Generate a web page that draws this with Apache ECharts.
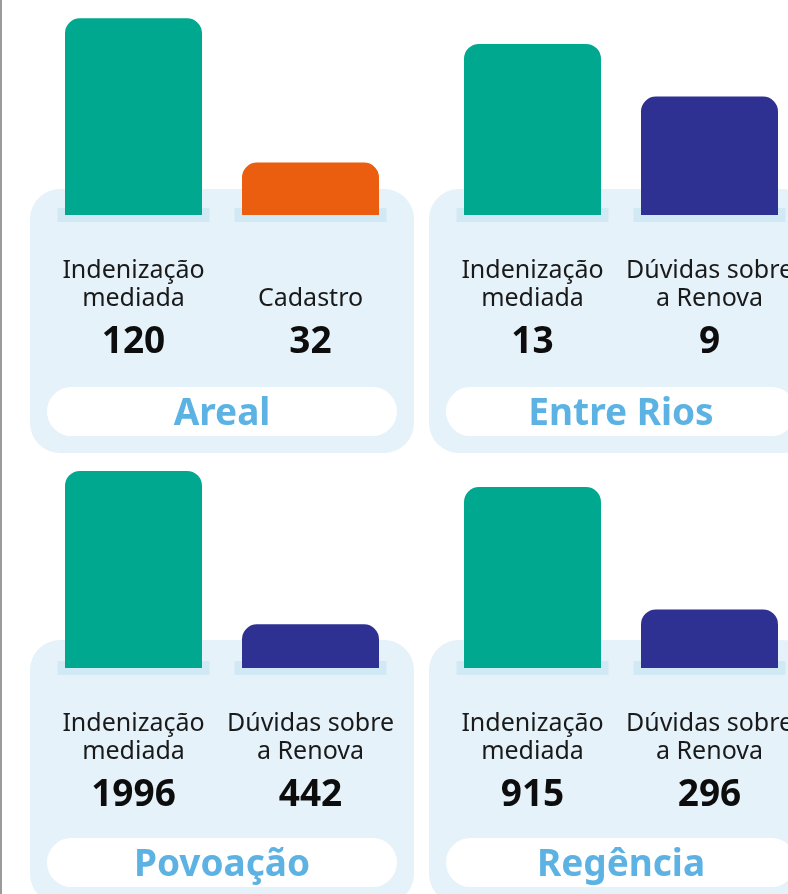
<!DOCTYPE html>
<html>
<head>
<meta charset="utf-8">
<script src="https://cdn.jsdelivr.net/npm/echarts@6/dist/echarts.min.js"></script>
<style>
    html, body { margin: 0; padding: 0; background: #fff; }
    #chart { width: 788px; height: 894px; }
</style>
</head>
<body>
<div id="chart"></div>
<script>
// dados de cada localidade
const panelNames = ['Areal', 'Entre Rios', 'Povoação', 'Regência'];
const categories = [
    ['Indenização\nmediada', 'Cadastro'],
    ['Indenização\nmediada', 'Dúvidas sobre\na Renova'],
    ['Indenização\nmediada', 'Dúvidas sobre\na Renova'],
    ['Indenização\nmediada', 'Dúvidas sobre\na Renova']
];
const values = [
    [120, 32],
    [13, 9],
    [1996, 442],
    [915, 296]
];
const axisMax = [122, 15.2, 2026, 1011];

const GREEN = '#00A88F';
const ORANGE = '#EB5D0F';
const NAVY = '#2F3192';
const barColors = [
    [GREEN, ORANGE],
    [GREEN, NAVY],
    [GREEN, NAVY],
    [GREEN, NAVY]
];

const offX = [0, 399, 0, 399];
const offY = [0, 0, 451, 451];
const FONT = '"Noto Sans", Lato, sans-serif';

const chart = echarts.init(document.getElementById('chart'));

let grids = [], xAxes = [], yAxes = [], series = [], graphics = [];

graphics.push({
    type: 'rect',
    shape: { x: 0, y: 0, width: 2, height: 894 },
    style: { fill: '#9b9b9b' },
    z: 0
});

panelNames.forEach((name, p) => {
    const dx = offX[p], dy = offY[p];
    const gy = p > 1 ? 453 : 0;

    // fundo do painel
    graphics.push({
        type: 'rect',
        shape: { x: 30 + dx, y: 189 + dy, width: 384, height: 264, r: 30 },
        style: { fill: '#E6F2FA' },
        z: -10
    });
    // pílula com o nome
    graphics.push({
        type: 'rect',
        shape: { x: 47 + dx, y: 387 + dy, width: 350, height: 49, r: 24.5 },
        style: { fill: '#ffffff' },
        z: -9
    });
    graphics.push({
        type: 'text',
        x: 222 + dx,
        y: 414 + dy,
        style: {
            text: name,
            fill: '#5CB3E3',
            font: 'bold 37px ' + FONT,
            textAlign: 'center',
            textVerticalAlign: 'middle'
        },
        z: -8
    });

    grids.push({ left: 45 + dx, top: 15 + gy, width: 354, height: 200, outerBoundsMode: 'none', containLabel: false });

    xAxes.push({
        type: 'category',
        gridIndex: p,
        data: categories[p],
        axisLine: { show: false },
        axisTick: { show: false },
        axisLabel: {
            interval: 0,
            margin: 42,
            hideOverlap: false,
            formatter: function (val, idx) {
                let lines = val.split('\n');
                if (lines.length === 1) lines.unshift(' ');
                return lines.map(l => '{t|' + l + '}').join('\n') + '\n{v|' + values[p][idx] + '}';
            },
            rich: {
                t: { fontFamily: FONT, fontSize: 25, lineHeight: 28, color: '#1a1a1a' },
                v: { fontFamily: FONT, fontSize: 37, fontWeight: 'bold', lineHeight: 58, color: '#0d0d0d' }
            }
        }
    });

    yAxes.push({
        type: 'value',
        gridIndex: p,
        min: 0,
        max: axisMax[p],
        show: false,
        splitLine: { show: false }
    });

    // faixa clara sob as barras
    series.push({
        type: 'custom',
        xAxisIndex: p,
        yAxisIndex: p,
        z: 1,
        silent: true,
        data: values[p].map((v, i) => [i, 0]),
        renderItem: function (params, api) {
            const pt = api.coord([api.value(0), 0]);
            return {
                type: 'rect',
                shape: { x: pt[0] - 76, y: pt[1] - 7, width: 152, height: 14 },
                style: { fill: '#D1E8F5' }
            };
        }
    });

    series.push({
        type: 'bar',
        xAxisIndex: p,
        yAxisIndex: p,
        z: 2,
        barWidth: 137,
        silent: true,
        data: values[p].map((v, i) => ({
            value: v,
            itemStyle: { color: barColors[p][i], borderRadius: [15, 15, 0, 0] }
        }))
    });
});

chart.setOption({
    animation: false,
    graphic: graphics,
    grid: grids,
    xAxis: xAxes,
    yAxis: yAxes,
    series: series
});
</script>
</body>
</html>
